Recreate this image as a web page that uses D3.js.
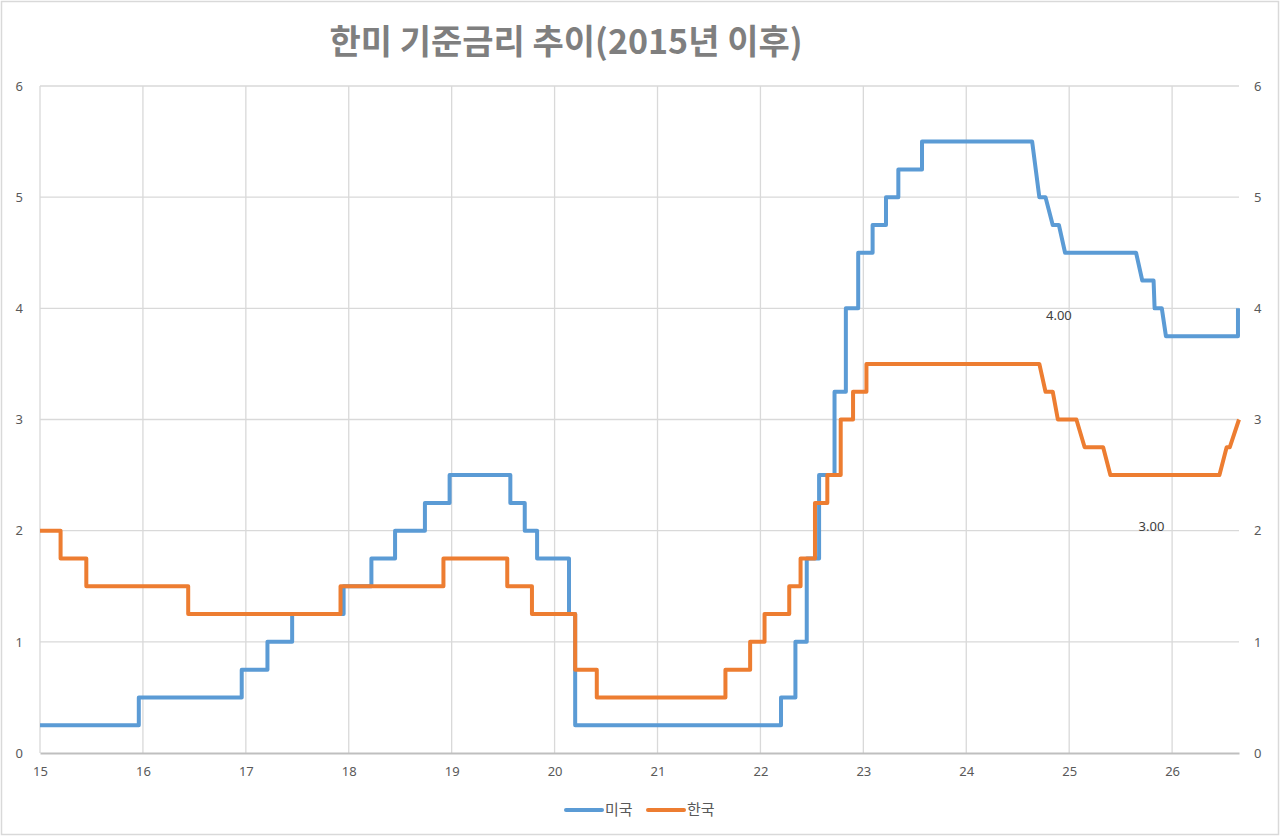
<!DOCTYPE html>
<html>
<head>
<meta charset="utf-8">
<script src="https://cdn.jsdelivr.net/npm/d3@7"></script>
<style>
  body { margin: 0; background: #fff; }
  text { font-family: "Noto Sans CJK KR", "Noto Sans", sans-serif; }
</style>
</head>
<body>
<div id="chart"></div>
<script>
// year (2-digit, decimal) and policy rate, step changes repeated at the same x
const usRate = [
  [15.00, 0.25], [15.96, 0.25], [15.96, 0.5], [16.96, 0.5], [16.96, 0.75],
  [17.21, 0.75], [17.21, 1.0], [17.45, 1.0], [17.45, 1.25], [17.95, 1.25],
  [17.95, 1.5], [18.22, 1.5], [18.22, 1.75], [18.45, 1.75], [18.45, 2.0],
  [18.74, 2.0], [18.74, 2.25], [18.98, 2.25], [18.98, 2.5], [19.57, 2.5],
  [19.57, 2.25], [19.71, 2.25], [19.71, 2.0], [19.83, 2.0], [19.83, 1.75],
  [20.14, 1.75], [20.14, 1.25], [20.20, 1.25], [20.20, 0.25], [22.20, 0.25],
  [22.20, 0.5], [22.34, 0.5], [22.34, 1.0], [22.45, 1.0], [22.45, 1.75],
  [22.57, 1.75], [22.57, 2.5], [22.72, 2.5], [22.72, 3.25], [22.83, 3.25],
  [22.83, 4.0], [22.95, 4.0], [22.95, 4.5], [23.09, 4.5], [23.09, 4.75],
  [23.22, 4.75], [23.22, 5.0], [23.34, 5.0], [23.34, 5.25], [23.57, 5.25],
  [23.57, 5.5], [24.64, 5.5], [24.71, 5.0], [24.77, 5.0], [24.84, 4.75],
  [24.90, 4.75], [24.96, 4.5], [25.65, 4.5], [25.71, 4.25], [25.82, 4.25],
  [25.83, 4.0], [25.90, 4.0], [25.94, 3.75], [26.64, 3.75], [26.64, 4.0]
];
const krRate = [
  [15.00, 2.0], [15.20, 2.0], [15.20, 1.75], [15.45, 1.75], [15.45, 1.5],
  [16.44, 1.5], [16.44, 1.25], [17.92, 1.25], [17.92, 1.5], [18.92, 1.5],
  [18.92, 1.75], [19.54, 1.75], [19.54, 1.5], [19.78, 1.5], [19.78, 1.25],
  [20.20, 1.25], [20.20, 0.75], [20.41, 0.75], [20.41, 0.5], [21.66, 0.5],
  [21.66, 0.75], [21.90, 0.75], [21.90, 1.0], [22.04, 1.0], [22.04, 1.25],
  [22.28, 1.25], [22.28, 1.5], [22.39, 1.5], [22.39, 1.75], [22.53, 1.75],
  [22.53, 2.25], [22.65, 2.25], [22.65, 2.5], [22.78, 2.5], [22.78, 3.0],
  [22.90, 3.0], [22.90, 3.25], [23.03, 3.25], [23.03, 3.5], [24.71, 3.5],
  [24.77, 3.25], [24.84, 3.25], [24.89, 3.0], [25.07, 3.0], [25.15, 2.75],
  [25.33, 2.75], [25.40, 2.5], [26.46, 2.5], [26.53, 2.75], [26.56, 2.75],
  [26.65, 3.0]
];
const seriesNames = ["미국", "한국"];
const seriesColors = ["#5b9bd5", "#ed7d31"];
const xTicks = [15, 16, 17, 18, 19, 20, 21, 22, 23, 24, 25, 26];
const yTicks = [0, 1, 2, 3, 4, 5, 6];
// floating data labels left where they were dragged
const dataLabels = [["4.00", 24.90, 3.94], ["3.00", 25.80, 2.04]];
const title = "한미 기준금리 추이(2015년 이후)";

const W = 1280, H = 836;
const svg = d3.select("#chart").append("svg")
    .attr("width", W).attr("height", H);

svg.append("rect")
    .attr("x", 1.5).attr("y", 1.5).attr("width", W - 3).attr("height", H - 3)
    .attr("fill", "#fff").attr("stroke", "#d9d9d9").attr("stroke-width", 1.5);

let x = d3.scaleLinear().domain([15, 26.65]).range([40, 1239]);
let y = d3.scaleLinear().domain([0, 6]).range([753, 86]);

// gridlines
svg.append("g").selectAll("line").data(yTicks.slice(1)).join("line")
    .attr("x1", x(15)).attr("x2", x(26.65))
    .attr("y1", d => y(d)).attr("y2", d => y(d))
    .attr("stroke", "#d9d9d9").attr("stroke-width", 1.3);
svg.append("g").selectAll("line").data(xTicks).join("line")
    .attr("x1", d => x(d)).attr("x2", d => x(d))
    .attr("y1", y(0)).attr("y2", y(6))
    .attr("stroke", "#d9d9d9").attr("stroke-width", 1.3);

// axes
let xAxis = svg.append("g").attr("transform", "translate(0," + y(0) + ")")
    .call(d3.axisBottom(x).tickValues(xTicks).tickSize(0).tickPadding(14));
xAxis.select(".domain").attr("stroke", "#bfbfbf").attr("stroke-width", 2);

let fmt = d3.format("d");
let yLeft = svg.append("g").attr("transform", "translate(23,0)")
    .call(d3.axisLeft(y).tickValues(yTicks).tickFormat(fmt).tickSize(0).tickPadding(0));
let yRight = svg.append("g").attr("transform", "translate(1254,0)")
    .call(d3.axisRight(y).tickValues(yTicks).tickFormat(fmt).tickSize(0).tickPadding(0));
[yLeft, yRight].forEach(a => a.select(".domain").remove());

svg.selectAll(".tick text")
    .attr("fill", "#595959")
    .style("font-family", "'Noto Sans', sans-serif")
    .style("font-size", "13px");

// series
let line = d3.line().x(d => x(d[0])).y(d => y(d[1]));
[usRate, krRate].forEach((s, i) => {
    svg.append("path").datum(s)
        .attr("d", line)
        .attr("fill", "none")
        .attr("stroke", seriesColors[i])
        .attr("stroke-width", 4)
        .attr("stroke-linejoin", "round");
});

svg.append("g").selectAll("text").data(dataLabels).join("text")
    .attr("x", d => x(d[1])).attr("y", d => y(d[2]))
    .attr("text-anchor", "middle").attr("dy", "0.35em")
    .attr("fill", "#404040")
    .style("font-family", "'Noto Sans', sans-serif")
    .style("font-size", "13px")
    .text(d => d[0]);

// title
svg.append("text")
    .attr("x", 566).attr("y", 54)
    .attr("text-anchor", "middle")
    .attr("fill", "#7f7f7f")
    .style("font-size", "34px").style("font-weight", "bold")
    .text(title);

// legend
let legend = svg.append("g").attr("transform", "translate(566,810)");
let lx = [0, 82];
seriesNames.forEach((n, i) => {
    legend.append("line")
        .attr("x1", lx[i]).attr("x2", lx[i] + 36)
        .attr("stroke", seriesColors[i]).attr("stroke-width", 4)
        .attr("stroke-linecap", "round");
    legend.append("text")
        .attr("x", lx[i] + 39).attr("dy", "0.35em")
        .attr("fill", "#595959").style("font-size", "15px")
        .text(n);
});
</script>
</body>
</html>
